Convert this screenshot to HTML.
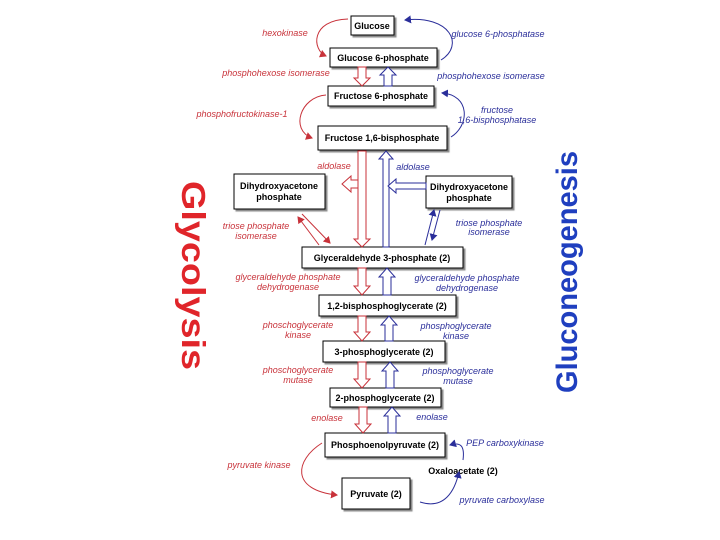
<!DOCTYPE html>
<html><head><meta charset="utf-8"><style>
html,body{margin:0;padding:0;background:#fff;width:720px;height:540px;overflow:hidden}
svg{display:block}
.b{font:bold 9px "Liberation Sans",sans-serif;fill:#000}
.r{font:italic 9px "Liberation Sans",sans-serif;fill:#c8323a}
.u{font:italic 9px "Liberation Sans",sans-serif;fill:#2a2e9a}
</style></head><body>
<svg width="720" height="540" viewBox="0 0 720 540">
<defs>
<marker id="ar" markerWidth="8" markerHeight="8" refX="6" refY="4" orient="auto"><path d="M0,0 L7,4 L0,8 z" fill="#c8323a"/></marker>
<marker id="au" markerWidth="8" markerHeight="8" refX="6" refY="4" orient="auto"><path d="M0,0 L7,4 L0,8 z" fill="#2a2e9a"/></marker>
<filter id="sh"><feDropShadow dx="2" dy="2" stdDeviation="0.6" flood-color="#888"/></filter>
</defs>

<text transform="translate(182,181) rotate(90)" textLength="189" lengthAdjust="spacingAndGlyphs" style="font:bold 33px 'Liberation Sans',sans-serif;fill:#e0252a">Glycolysis</text>
<text transform="translate(577,393) rotate(-90)" textLength="242" lengthAdjust="spacingAndGlyphs" style="font:bold 30px 'Liberation Sans',sans-serif;fill:#1f3fbf">Gluconeogenesis</text>

<g fill="#fff" stroke="#000" stroke-width="1" filter="url(#sh)">
<rect x="351" y="16" width="43" height="19"/>
<rect x="330" y="48" width="107" height="19"/>
<rect x="328" y="86" width="106" height="20"/>
<rect x="318" y="126" width="129" height="24"/>
<rect x="234" y="174" width="91" height="35"/>
<rect x="426" y="176" width="86" height="32"/>
<rect x="302" y="247" width="161" height="21"/>
<rect x="319" y="295" width="137" height="21"/>
<rect x="323" y="341" width="122" height="21"/>
<rect x="330" y="388" width="111" height="19"/>
<rect x="325" y="433" width="120" height="24"/>
<rect x="342" y="478" width="68" height="31"/>
</g>
<g class="b" text-anchor="middle">
<text x="372" y="29">Glucose</text>
<text x="383" y="61">Glucose 6-phosphate</text>
<text x="381" y="99">Fructose 6-phosphate</text>
<text x="382" y="141">Fructose 1,6-bisphosphate</text>
<text x="279" y="189">Dihydroxyacetone</text><text x="279" y="200">phosphate</text>
<text x="469" y="190">Dihydroxyacetone</text><text x="469" y="201">phosphate</text>
<text x="382" y="261">Glyceraldehyde 3-phosphate (2)</text>
<text x="387" y="309">1,2-bisphosphoglycerate (2)</text>
<text x="384" y="355">3-phosphoglycerate (2)</text>
<text x="385" y="401">2-phosphoglycerate (2)</text>
<text x="385" y="448">Phosphoenolpyruvate (2)</text>
<text x="376" y="497">Pyruvate (2)</text>
<text x="463" y="474">Oxaloacetate (2)</text>
</g>

<g fill="#fff" stroke-width="1">
<g stroke="#c8323a">
<path d="M358,67 v11 h-4 l8,8 l8,-8 h-4 v-11 z"/>
<path d="M358,151 v88 h-4 l8,8 l8,-8 h-4 v-88 z"/>
<path d="M358,268 v18 h-4 l8,9 l8,-9 h-4 v-18 z"/>
<path d="M358,316 v16 h-4 l8,9 l8,-9 h-4 v-16 z"/>
<path d="M358,362 v17 h-4 l8,9 l8,-9 h-4 v-17 z"/>
<path d="M359,407 v17 h-4 l8,9 l8,-9 h-4 v-17 z"/>
<path d="M358,180 h-7 v-4 l-9,8 l9,8 v-4 h7 z"/>
</g>
<g stroke="#2a2e9a">
<path d="M384,86 v-11 h-4 l8,-8 l8,8 h-4 v11 z"/>
<path d="M383,247 v-88 h-4 l7,-8 l7,8 h-4 v88 z"/>
<path d="M383,295 v-18 h-4 l8,-9 l8,9 h-4 v18 z"/>
<path d="M385,341 v-16 h-4 l8,-9 l8,9 h-4 v16 z"/>
<path d="M386,388 v-17 h-4 l8,-9 l8,9 h-4 v17 z"/>
<path d="M388,433 v-17 h-4 l8,-9 l8,9 h-4 v17 z"/>
<path d="M426,183 h-30 v-4 l-8,7 l8,7 v-4 h30 z"/>
</g>
</g>

<g fill="none" stroke-width="1">
<g stroke="#c8323a">
<path d="M348,19 C310,20 312,50 326,56" marker-end="url(#ar)"/>
<path d="M326,95 C300,97 290,130 312,138" marker-end="url(#ar)"/>
<path d="M302,214 L330,243" marker-end="url(#ar)"/>
<path d="M319,245 L298,217" marker-end="url(#ar)"/>
<path d="M322,443 C295,460 290,490 337,495" marker-end="url(#ar)"/>
</g>
<g stroke="#2a2e9a">
<path d="M441,60 C465,45 450,15 405,20" marker-end="url(#au)"/>
<path d="M451,137 C470,125 470,95 442,93" marker-end="url(#au)"/>
<path d="M425,245 L434,210" marker-end="url(#au)"/>
<path d="M440,210 L432,240" marker-end="url(#au)"/>
<path d="M420,502 C445,510 455,490 459,472" marker-end="url(#au)"/>
<path d="M463,460 C465,445 460,442 450,445" marker-end="url(#au)"/>
</g>
</g>

<g class="r" text-anchor="middle">
<text x="285" y="36">hexokinase</text>
<text x="276" y="76">phosphohexose isomerase</text>
<text x="242" y="117">phosphofructokinase-1</text>
<text x="334" y="169">aldolase</text>
<text x="256" y="229">triose phosphate</text><text x="256" y="239">isomerase</text>
<text x="288" y="280">glyceraldehyde phosphate</text><text x="288" y="290">dehydrogenase</text>
<text x="298" y="328">phoschoglycerate</text><text x="298" y="338">kinase</text>
<text x="298" y="373">phoschoglycerate</text><text x="298" y="383">mutase</text>
<text x="327" y="421">enolase</text>
<text x="259" y="468">pyruvate kinase</text>
</g>
<g class="u" text-anchor="middle">
<text x="498" y="37">glucose 6-phosphatase</text>
<text x="491" y="79">phosphohexose isomerase</text>
<text x="497" y="113">fructose</text><text x="497" y="123">1,6-bisphosphatase</text>
<text x="413" y="170">aldolase</text>
<text x="489" y="226">triose phosphate</text><text x="489" y="235">isomerase</text>
<text x="467" y="281">glyceraldehyde phosphate</text><text x="467" y="291">dehydrogenase</text>
<text x="456" y="329">phosphoglycerate</text><text x="456" y="339">kinase</text>
<text x="458" y="374">phosphoglycerate</text><text x="458" y="384">mutase</text>
<text x="432" y="420">enolase</text>
<text x="505" y="446">PEP carboxykinase</text>
<text x="502" y="503">pyruvate carboxylase</text>
</g>
</svg>
</body></html>
